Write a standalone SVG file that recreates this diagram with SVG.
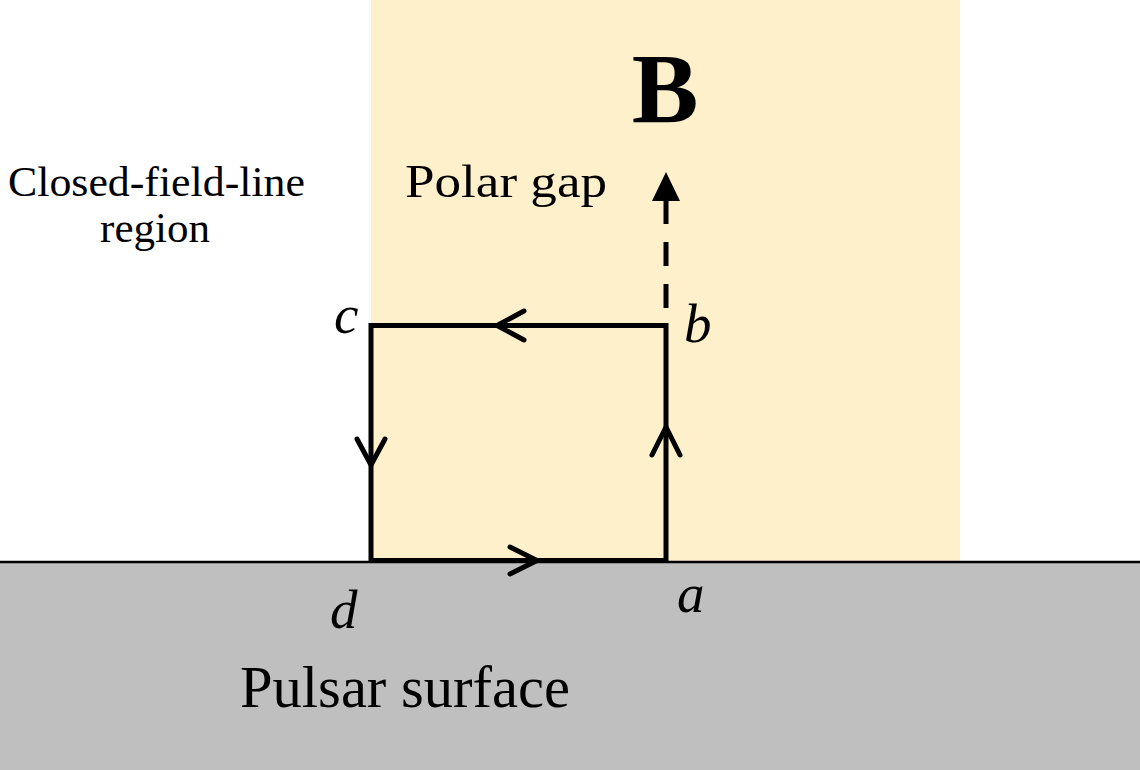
<svg xmlns="http://www.w3.org/2000/svg" width="1140" height="770" viewBox="0 0 1140 770">
<style>
.txt{font-family:"Liberation Serif","Times New Roman",serif;fill:#000}
.lbl{font-family:"Liberation Serif","Times New Roman",serif;font-style:italic;font-size:55px;fill:#000}
.loop{fill:none;stroke:#000;stroke-width:5}
.chev{fill:none;stroke:#000;stroke-width:5;stroke-linecap:round;stroke-linejoin:miter}
</style>
<rect x="0" y="0" width="1140" height="770" fill="#ffffff"/>
<g id="polar-gap">
<rect x="371" y="0" width="589" height="562" fill="#fff0cc"/>
<text class="txt" x="405" y="197" font-size="46" textLength="202" lengthAdjust="spacingAndGlyphs">Polar gap</text>
</g>
<g id="surface">
<rect x="0" y="562" width="1140" height="208" fill="#bfbfbf"/>
<line x1="0" y1="562" x2="1140" y2="562" stroke="#000" stroke-width="2.5"/>
<text class="txt" x="240" y="707" font-size="59" textLength="330" lengthAdjust="spacingAndGlyphs">Pulsar surface</text>
</g>
<g id="closed-region">
<text class="txt" x="8" y="196" font-size="43" textLength="297" lengthAdjust="spacingAndGlyphs">Closed-field-line</text>
<text class="txt" x="155" y="242" font-size="43" text-anchor="middle">region</text>
</g>
<g id="field-B">
<text class="txt" x="665" y="122" font-size="100" font-weight="bold" text-anchor="middle">B</text>
</g>
<g id="connectors">
<path class="loop" d="M371,560.5 L666,560.5 L666,325.5 L371,325.5 Z"/>
<polyline class="chev" points="510,547 537,560.5 510,574"/>
<polyline class="chev" points="652,455 666,427 680,455"/>
<polyline class="chev" points="524,311 497,325.5 524,340"/>
<polyline class="chev" points="357,439 371,465 385,439"/>
<line x1="666" y1="200" x2="666" y2="308" stroke="#000" stroke-width="5" stroke-dasharray="24 18"/>
<polygon points="666,172 652,201 680,201" fill="#000"/>
</g>
<g id="labels">
<text class="lbl" x="334" y="333">c</text>
<text class="lbl" x="684" y="342">b</text>
<text class="lbl" x="330" y="628">d</text>
<text class="lbl" x="677" y="612">a</text>
</g>
</svg>
